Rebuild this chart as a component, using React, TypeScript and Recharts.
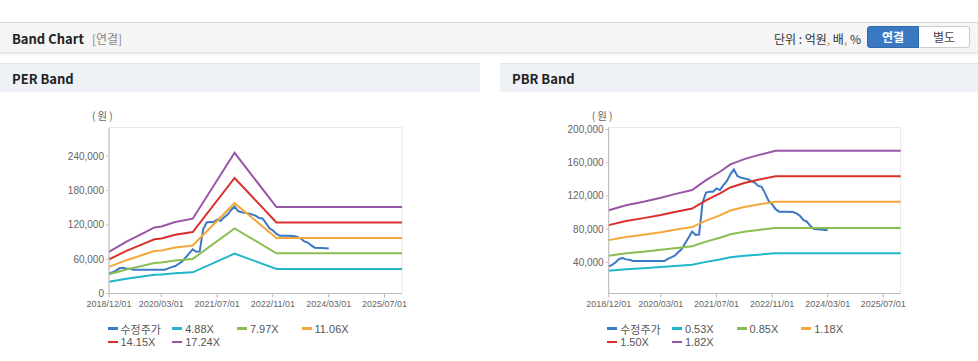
import { LineChart, Line, XAxis, YAxis, CartesianGrid } from "recharts"

const tickMonths = [0, 15, 31, 47, 63, 79]
const tickLabels = ["2018/12/01", "2020/03/01", "2021/07/01", "2022/11/01", "2024/03/01", "2025/07/01"]

// 수정주가 (month index from 2018/12)
const priceMonths = [0, 1, 2, 3, 4, 5, 6, 7, 10, 13, 16, 17, 18, 19, 20, 21, 22, 23, 24, 25, 26, 27, 28, 29, 30, 31, 32, 33, 34, 35, 36, 37, 38, 40, 42, 43, 44, 45, 46, 47, 48, 49, 51, 53, 54, 55, 56, 57, 58, 59, 61, 63]
const priceValues = [35000, 37000, 40000, 44000, 45000, 43500, 43000, 41500, 41500, 41500, 41500, 44000, 46000, 48000, 52000, 56000, 63000, 70000, 77000, 73000, 73500, 112000, 124000, 125000, 125000, 129000, 127000, 133000, 138000, 146000, 152000, 144000, 142000, 140000, 136000, 132000, 131000, 123000, 114000, 110000, 104000, 101000, 101000, 100500, 99000, 96000, 91000, 89000, 84000, 80000, 79500, 78500]

const perMonths = [0, 5, 10, 13, 15, 19, 24, 36, 48, 84]
const per488 = [20500, 25700, 30000, 32700, 33100, 35400, 37000, 69600, 42700, 42700]
const per797 = [33600, 41900, 49000, 53400, 54100, 57800, 60400, 113700, 70300, 70300]
const per1106 = [46600, 58200, 68000, 74100, 75100, 80200, 83800, 157700, 96900, 96900]
const per1415 = [59600, 74400, 87000, 94800, 96100, 102600, 107300, 201800, 124000, 124000]
const per1724 = [72600, 90700, 106000, 115500, 117100, 125000, 130700, 245800, 151000, 151000]

const pbrMonths = [0, 5, 10, 15, 19, 24, 28, 32, 35, 39, 43, 48, 84]
const pbr053 = [29900, 31700, 32900, 34300, 35600, 37000, 40500, 43400, 46000, 47900, 49200, 50800, 50800]
const pbr085 = [48000, 50800, 52800, 55000, 57000, 59300, 64900, 69600, 73800, 76800, 79000, 81400, 81400]
const pbr118 = [66700, 70600, 73300, 76300, 79200, 82400, 90200, 96600, 102400, 106600, 109600, 113000, 113000]
const pbr150 = [84800, 89700, 93200, 97100, 100700, 104700, 114600, 122900, 130200, 135500, 139400, 143700, 143700]
const pbr182 = [102800, 108800, 113000, 117800, 122100, 127000, 139000, 149100, 158000, 164300, 169100, 174400, 174400]

const perNames = ["4.88X", "7.97X", "11.06X", "14.15X", "17.24X"]
const pbrNames = ["0.53X", "0.85X", "1.18X", "1.50X", "1.82X"]
const perTicks = [0, 60000, 120000, 180000, 240000]
const pbrTicks = [40000, 80000, 120000, 160000, 200000]

const priceName = "수정주가"
const priceColor = "#3b78c6"
const bandColors = ["#1fb6c9", "#8cbd52", "#f3a83b", "#d9302c", "#9a56a6"]

const font = '"Liberation Sans", Arial, "Noto Sans CJK KR", sans-serif'
const krFont = '"Noto Sans CJK KR", "Liberation Sans", sans-serif'

const toPoints = (months: number[], values: number[]) => months.map((m, i) => ({ m, v: values[i] }))

interface BandProps {
  left: number
  width: number
  yWidth: number
  rightPad: number
  domain: [number, number]
  ticks: number[]
  names: string[]
  bands: number[][]
  months: number[]
}

function BandChart({ left, width, yWidth, rightPad, domain, ticks, names, bands, months }: BandProps) {
  const price = toPoints(priceMonths, priceValues)
  const items = [{ name: priceName, color: priceColor }, ...names.map((n, i) => ({ name: n, color: bandColors[i] }))]
  return (
    <div style={{ position: "absolute", left, top: 100, width, height: 261 }}>
      <div style={{ position: "absolute", left: yWidth - 17, top: 9, fontSize: 10.5, lineHeight: "14px", letterSpacing: 2, color: "#666", fontFamily: krFont, whiteSpace: "nowrap" }}>
        (원)
      </div>
      <LineChart width={width} height={215} margin={{ top: 27.5, right: rightPad, left: 0, bottom: 0 }}>
        <CartesianGrid stroke="#e8e8e8" />
        <XAxis
          xAxisId="b"
          dataKey="m"
          type="number"
          domain={[0, 84]}
          ticks={tickMonths}
          tickFormatter={(v: number) => tickLabels[tickMonths.indexOf(v)]}
          tick={{ fill: "#666", fontSize: 9, fontFamily: font }}
          axisLine={{ stroke: "#bbb" }}
          tickLine={{ stroke: "#bbb" }}
          tickSize={4}
          tickMargin={3}
          height={21.5}
          interval={0}
        />
        <XAxis xAxisId="t" orientation="top" type="number" domain={[0, 84]} height={0} tick={false} tickLine={false} axisLine={{ stroke: "#ccc" }} />
        <YAxis
          yAxisId="l"
          domain={domain}
          ticks={ticks}
          allowDataOverflow
          tickFormatter={(v: number) => v.toLocaleString("en-US")}
          tick={{ fill: "#666", fontSize: 10, fontFamily: font }}
          axisLine={{ stroke: "#bbb" }}
          tickLine={{ stroke: "#ccc" }}
          tickSize={3}
          tickMargin={2}
          width={yWidth}
        />
        <YAxis yAxisId="r" orientation="right" domain={domain} width={0} tick={false} tickLine={false} axisLine={{ stroke: "#ccc" }} />
        <Line
          xAxisId="b"
          yAxisId="l"
          data={price}
          dataKey="v"
          stroke={priceColor}
          strokeWidth={2}
          dot={false}
          isAnimationActive={false}
        />
        {bands.map((vals, i) => (
          <Line
            key={names[i]}
            xAxisId="b"
            yAxisId="l"
            data={toPoints(months, vals)}
            dataKey="v"
            stroke={bandColors[i]}
            strokeWidth={2}
            dot={false}
            isAnimationActive={false}
          />
        ))}
      </LineChart>
      <div style={{ position: "absolute", left: yWidth - 1.5, top: 222, width: 270, display: "flex", flexWrap: "wrap" }}>
        {items.map((it) => (
          <div key={it.name} style={{ width: 64.7, height: 13.4, display: "flex", alignItems: "center", fontSize: 11, color: "#555", fontFamily: font }}>
            <span style={{ display: "inline-block", width: 10, height: 2.5, background: it.color, marginRight: 3 }} />
            <span style={{ whiteSpace: "nowrap" }}>{it.name}</span>
          </div>
        ))}
      </div>
    </div>
  )
}

export default function App() {
  return (
    <div style={{ position: "relative", width: 978, height: 361, background: "#fff", overflow: "hidden", fontFamily: krFont }}>
      <style>{"body{margin:0}"}</style>
      <div style={{ position: "absolute", left: 0, top: 22, width: 978, height: 29, background: "#f5f5f5", borderTop: "1px solid #d6d6d6", borderBottom: "1px solid #e2e2e2", boxShadow: "0 2px 2px rgba(0,0,0,0.07)" }}>
        <div style={{ position: "absolute", left: 12, top: 6, fontSize: 13, fontWeight: 700, color: "#222", whiteSpace: "nowrap" }}>
          Band Chart<span style={{ fontWeight: 400, color: "#888", fontSize: 12, marginLeft: 8 }}>[연결]</span>
        </div>
        <div style={{ position: "absolute", right: 117, top: 7, fontSize: 12, color: "#333", whiteSpace: "nowrap" }}>
          단위 : 억원<span style={{ color: "#e08a2c" }}>,</span> 배<span style={{ color: "#e08a2c" }}>,</span> %
        </div>
        <div style={{ position: "absolute", left: 867, top: 3, width: 52, height: 22, background: "#3a79c2", border: "1px solid #2f68ab", borderRadius: "3px 0 0 3px", boxSizing: "border-box", color: "#fff", fontSize: 12, fontWeight: 700, textAlign: "center", lineHeight: "20px" }}>
          연결
        </div>
        <div style={{ position: "absolute", left: 919, top: 3, width: 51, height: 22, background: "#fff", border: "1px solid #ccc", borderLeft: "none", borderRadius: "0 3px 3px 0", boxSizing: "border-box", color: "#444", fontSize: 12, textAlign: "center", lineHeight: "20px" }}>
          별도
        </div>
      </div>
      <div style={{ position: "absolute", left: 0, top: 63, width: 480, height: 29, background: "#eef2f7", borderTop: "1px solid #dfe4ec", boxSizing: "border-box" }}>
        <div style={{ position: "absolute", left: 12, top: 5, fontSize: 13, fontWeight: 700, color: "#222" }}>PER Band</div>
      </div>
      <div style={{ position: "absolute", left: 500, top: 63, width: 478, height: 29, background: "#eef2f7", borderTop: "1px solid #dfe4ec", boxSizing: "border-box" }}>
        <div style={{ position: "absolute", left: 12, top: 5, fontSize: 13, fontWeight: 700, color: "#222" }}>PBR Band</div>
      </div>
      <BandChart
        left={0}
        width={480}
        yWidth={109}
        rightPad={78}
        domain={[0, 290000]}
        ticks={perTicks}
        names={perNames}
        bands={[per488, per797, per1106, per1415, per1724]}
        months={perMonths}
      />
      <BandChart
        left={500}
        width={478}
        yWidth={108.7}
        rightPad={77.3}
        domain={[2400, 202400]}
        ticks={pbrTicks}
        names={pbrNames}
        bands={[pbr053, pbr085, pbr118, pbr150, pbr182]}
        months={pbrMonths}
      />
    </div>
  )
}
